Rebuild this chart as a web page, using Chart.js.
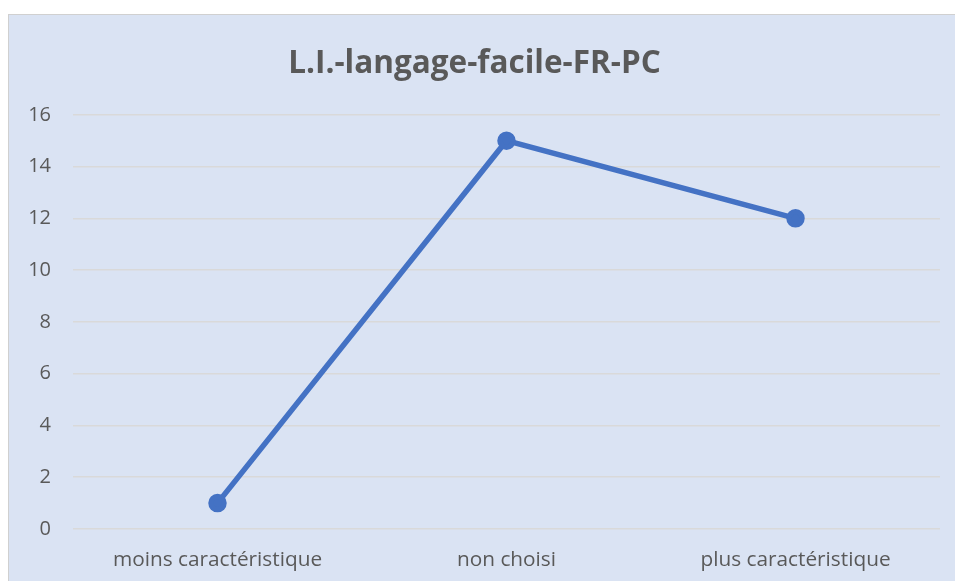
<!DOCTYPE html>
<html>
<head>
<meta charset="utf-8">
<script src="https://cdn.jsdelivr.net/npm/chart.js@4"></script>
<style>
  html, body { margin: 0; padding: 0; background: #ffffff; }
  #wrap {
    position: absolute; left: 8px; top: 14px;
    width: 947px; height: 567px;
    background: #dae3f3;
    border-left: 1px solid #d0d0d0;
    border-top: 1px solid #d0d0d0;
    box-sizing: border-box;
  }
</style>
</head>
<body>
<div id="wrap"><canvas id="chart"></canvas></div>
<script>
const categories = ["moins caractéristique", "non choisi", "plus caractéristique"];
const counts = [1, 15, 12];
const yTicks = { min: 0, max: 16, step: 2 };

const textColor = '#595959';
const fontFamily = '"Open Sans", Lato, sans-serif';

const ctx = document.getElementById('chart').getContext('2d');

new Chart(ctx, {
    type: 'line',
    data: {
        labels: categories,
        datasets: [
            {
                label: 'L.I.-langage-facile-FR-PC',
                data: counts,
                borderColor: '#4472c4',
                backgroundColor: '#4472c4',
                borderWidth: 5.5,
                pointRadius: 6.5,
                pointHoverRadius: 6.5,
                tension: 0,
                fill: false
            }
        ]
    },
    options: {
        responsive: true,
        maintainAspectRatio: false,
        animation: false,
        layout: {
            padding: { left: 0, right: 15, top: 0, bottom: 0 }
        },
        plugins: {
            legend: { display: false },
            tooltip: { enabled: false },
            title: {
                display: true,
                text: 'L.I.-langage-facile-FR-PC',
                color: textColor,
                font: { family: fontFamily, size: 31.5, weight: 'bold' },
                padding: { top: 30, bottom: 32 }
            }
        },
        scales: {
            x: {
                offset: true,
                grid: { display: false, drawTicks: false },
                border: { display: false },
                ticks: {
                    color: textColor,
                    font: { family: fontFamily, size: 20.8 },
                    padding: 19
                },
                afterFit: (scale) => { scale.height = 52; }
            },
            y: {
                min: yTicks.min,
                max: yTicks.max,
                grid: { color: '#d9d9d9', lineWidth: 1.5, drawTicks: false },
                border: { display: false },
                ticks: {
                    stepSize: yTicks.step,
                    color: textColor,
                    font: { family: fontFamily, size: 20 },
                    padding: 22
                },
                afterFit: (scale) => { scale.width = 64; }
            }
        }
    }
});
</script>
</body>
</html>
